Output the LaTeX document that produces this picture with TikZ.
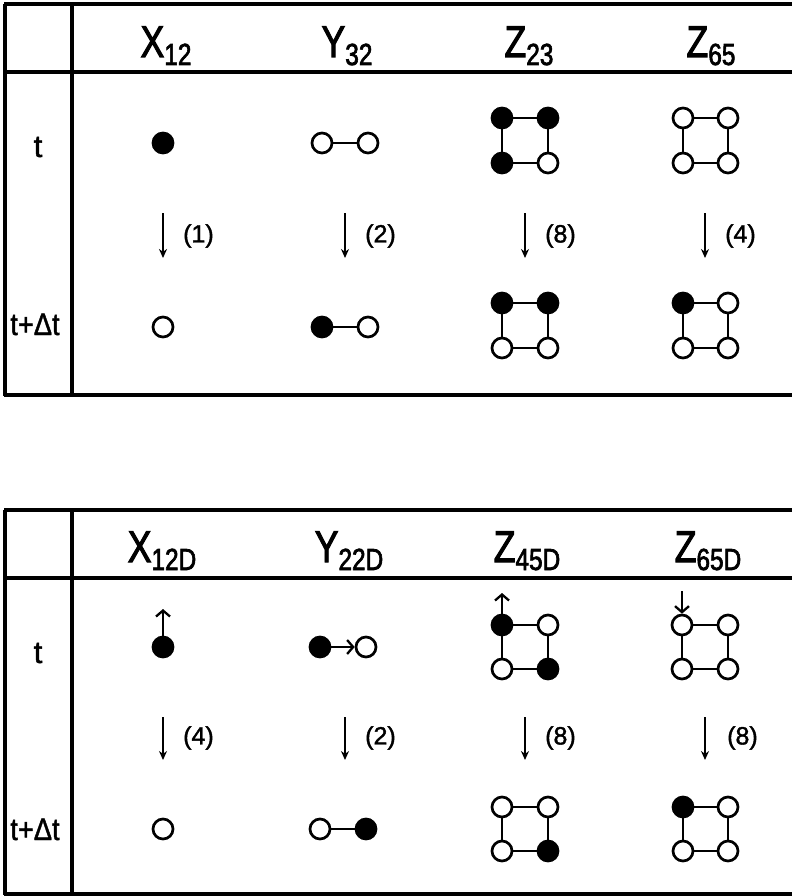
\documentclass[tikz,border=0pt]{standalone}
\usepackage{fontspec}
\usepackage{graphicx}
\setmainfont{Liberation Sans}[FakeBold=1.5]
\newfontface\hdfont{Liberation Sans}[FakeBold=2.5]
\usetikzlibrary{arrows.meta}
\newcommand\hdtxt[2]{\scalebox{0.8}[1]{#1\raisebox{-8pt}{\fontsize{30.5}{30.5}\selectfont #2}}}
\begin{document}
\begin{tikzpicture}[x=1pt,y=-1pt,
  frame/.style={line width=3.2pt},
  atom/.style={circle, draw, line width=2.7pt, minimum size=20pt, inner sep=0pt},
  full/.style={atom, fill=black},
  hollow/.style={atom, fill=white},
  bond/.style={line width=2.5pt},
  trans/.style={line width=2.4pt, -{Stealth[length=9pt,width=8pt]}},
  move/.style={line width=2.3pt, -{Straight Barb[length=6pt,width=14pt]}},
  hdr/.style={anchor=base, inner sep=0pt, font=\hdfont\fontsize{44.5}{44.5}\selectfont},
  rowlab/.style={anchor=base, inner sep=0pt, font=\fontsize{31}{31}\selectfont},
  cnt/.style={anchor=west, inner sep=0pt, font=\fontsize{25}{25}\selectfont}
]
\useasboundingbox (0,0) rectangle (792,896);

% ---------- top table frame ----------
\draw[frame] (4,4) -- (792,4);
\draw[frame] (5,4) -- (5,396);
\draw[frame] (72,4) -- (72,396);
\draw[frame] (5,72) -- (792,72);
\draw[frame] (4,395) -- (792,395);

% ---------- bottom table frame ----------
\draw[frame] (4,510) -- (792,510);
\draw[frame] (5,510) -- (5,895);
\draw[frame] (72,510) -- (72,895);
\draw[frame] (5,578) -- (792,578);
\draw[frame] (4,894) -- (792,894);

% ---------- top headers ----------
\node[hdr] (h1) at (166,57) {\hdtxt{X}{12}};
\node[hdr] (h2) at (347,57) {\hdtxt{Y}{32}};
\node[hdr] (h3) at (529,57) {\hdtxt{Z}{23}};
\node[hdr] (h4) at (711,57) {\hdtxt{Z}{65}};
\node[rowlab] (r1) at (38,157) {t};
\node[rowlab] (r2) at (35,335) {\scalebox{0.88}[1]{t+Δt}};

% ---------- bottom headers ----------
\node[hdr] (h5) at (162,562) {\hdtxt{X}{12D}};
\node[hdr] (h6) at (349,562) {\hdtxt{Y}{22D}};
\node[hdr] (h7) at (527,562) {\hdtxt{Z}{45D}};
\node[hdr] (h8) at (708,562) {\hdtxt{Z}{65D}};
\node[rowlab] (r3) at (38,663) {t};
\node[rowlab] (r4) at (35,840) {\scalebox{0.88}[1]{t+Δt}};

% ---------- top table, row t ----------
\node[full] (a1) at (163,143) {};
\node[hollow] (b1) at (322,143) {};
\node[hollow] (b2) at (368,143) {};
\draw[bond] (b1) -- (b2);
\node[full] (c1) at (502,118) {};
\node[full] (c2) at (548,118) {};
\node[full] (c3) at (502,163) {};
\node[hollow] (c4) at (548,163) {};
\draw[bond] (c1) -- (c2) (c2) -- (c4) (c4) -- (c3) (c3) -- (c1);
\node[hollow] (d1) at (683,118) {};
\node[hollow] (d2) at (728,118) {};
\node[hollow] (d3) at (683,163) {};
\node[hollow] (d4) at (728,163) {};
\draw[bond] (d1) -- (d2) (d2) -- (d4) (d4) -- (d3) (d3) -- (d1);

% ---------- top table, transitions ----------
\coordinate (ta1) at (163,213); \coordinate (tb1) at (163,258);
\coordinate (ta2) at (345,213); \coordinate (tb2) at (345,258);
\coordinate (ta3) at (525,213); \coordinate (tb3) at (525,258);
\coordinate (ta4) at (705,213); \coordinate (tb4) at (705,258);
\draw[trans] (ta1) -- (tb1);
\draw[trans] (ta2) -- (tb2);
\draw[trans] (ta3) -- (tb3);
\draw[trans] (ta4) -- (tb4);
\node[cnt] (n1) at (183,236) {(1)};
\node[cnt] (n2) at (365,236) {(2)};
\node[cnt] (n3) at (545,236) {(8)};
\node[cnt] (n4) at (725,236) {(4)};

% ---------- top table, row t+dt ----------
\node[hollow] (e1) at (163,327) {};
\node[full] (f1) at (322,327) {};
\node[hollow] (f2) at (368,327) {};
\draw[bond] (f1) -- (f2);
\node[full] (g1) at (502,303) {};
\node[full] (g2) at (548,303) {};
\node[hollow] (g3) at (502,348) {};
\node[hollow] (g4) at (548,348) {};
\draw[bond] (g1) -- (g2) (g2) -- (g4) (g4) -- (g3) (g3) -- (g1);
\node[full] (k1) at (683,303) {};
\node[hollow] (k2) at (728,303) {};
\node[hollow] (k3) at (683,348) {};
\node[hollow] (k4) at (728,348) {};
\draw[bond] (k1) -- (k2) (k2) -- (k4) (k4) -- (k3) (k3) -- (k1);

% ---------- bottom table, row t ----------
\node[full] (p1) at (163,647) {};
\coordinate (p1t) at (163,609);
\draw[move] (p1) -- (p1t);
\node[full] (q1) at (320,647) {};
\node[hollow] (q2) at (366,647) {};
\draw[move] (q1) -- (q2);
\node[full] (s1) at (502,625) {};
\node[hollow] (s2) at (548,625) {};
\node[hollow] (s3) at (502,669) {};
\node[full] (s4) at (548,669) {};
\draw[bond] (s1) -- (s2) (s2) -- (s4) (s4) -- (s3) (s3) -- (s1);
\coordinate (s1t) at (502,593);
\draw[move] (s1) -- (s1t);
\node[hollow] (u1) at (682,625) {};
\node[hollow] (u2) at (728,625) {};
\node[hollow] (u3) at (682,669) {};
\node[hollow] (u4) at (728,669) {};
\draw[bond] (u1) -- (u2) (u2) -- (u4) (u4) -- (u3) (u3) -- (u1);
\coordinate (u1t) at (682,591);
\draw[move] (u1t) -- (u1);

% ---------- bottom table, transitions ----------
\coordinate (va1) at (163,717); \coordinate (vb1) at (163,760);
\coordinate (va2) at (345,717); \coordinate (vb2) at (345,760);
\coordinate (va3) at (525,717); \coordinate (vb3) at (525,760);
\coordinate (va4) at (705,717); \coordinate (vb4) at (705,760);
\draw[trans] (va1) -- (vb1);
\draw[trans] (va2) -- (vb2);
\draw[trans] (va3) -- (vb3);
\draw[trans] (va4) -- (vb4);
\node[cnt] (m1) at (183,738) {(4)};
\node[cnt] (m2) at (365,738) {(2)};
\node[cnt] (m3) at (545,738) {(8)};
\node[cnt] (m4) at (727,738) {(8)};

% ---------- bottom table, row t+dt ----------
\node[hollow] (w1) at (163,829) {};
\node[hollow] (y1) at (320,829) {};
\node[full] (y2) at (366,829) {};
\draw[bond] (y1) -- (y2);
\node[hollow] (z1) at (502,807) {};
\node[hollow] (z2) at (548,807) {};
\node[hollow] (z3) at (502,851) {};
\node[full] (z4) at (548,851) {};
\draw[bond] (z1) -- (z2) (z2) -- (z4) (z4) -- (z3) (z3) -- (z1);
\node[full] (o1) at (683,807) {};
\node[hollow] (o2) at (728,807) {};
\node[hollow] (o3) at (683,851) {};
\node[hollow] (o4) at (728,851) {};
\draw[bond] (o1) -- (o2) (o2) -- (o4) (o4) -- (o3) (o3) -- (o1);
\end{tikzpicture}
\end{document}
